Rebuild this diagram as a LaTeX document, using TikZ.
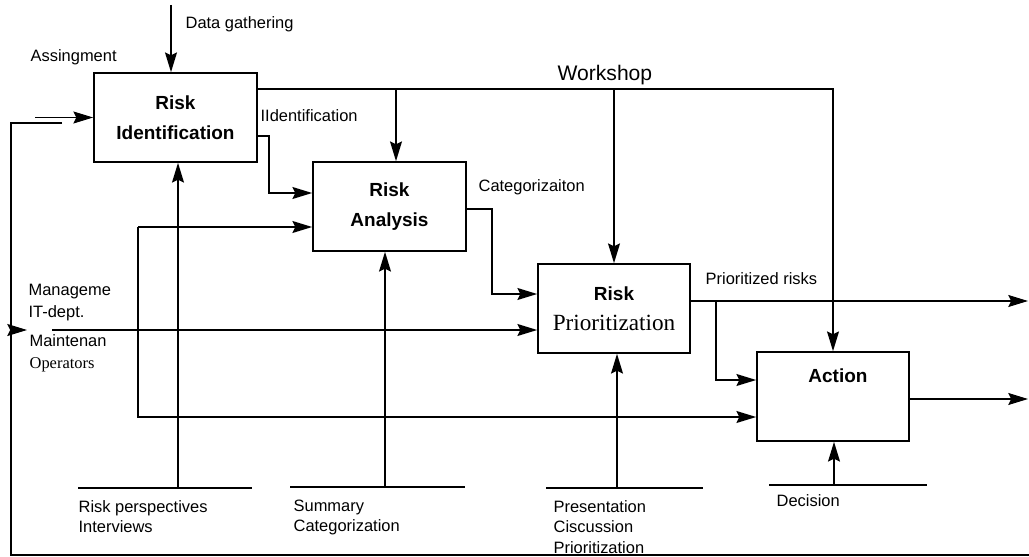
\documentclass[tikz,border=0pt]{standalone}
\usepackage{fontspec}
\setmainfont{Liberation Sans}
\newfontfamily\timesfont{Liberation Serif}
\usetikzlibrary{arrows.meta, positioning}

\begin{document}
\begin{tikzpicture}[x=0.025cm, y=-0.025cm, line width=0.9pt,
    box/.style={draw, line width=1.2pt, minimum width=3.8cm, minimum height=2.225cm,
      align=center, font=\bfseries\fontsize{13.5}{21}\selectfont},
    flow/.style={-{Stealth[length=14pt, width=8.5pt, inset=2pt]}},
    lbl/.style={inner sep=0pt, align=left, font=\fontsize{11.7}{14.4}\selectfont}]
    \useasboundingbox (0,0) rectangle (1029,557);

    % Boxes
    \node[box, minimum width=4.075cm] (ri) at (175.5,117.5) {Risk\\Identification};
    \node[box, minimum width=3.825cm] (ra) at (389.5,206.5) {Risk\\Analysis};
    \node[box] (rp) at (614,308.5) {Risk\\{\mdseries\timesfont\fontsize{16.5}{21}\selectfont Prioritization}};
    \node[box] (act) at (833,396.5) {};
    \node[font=\bfseries\fontsize{13.5}{16}\selectfont] (actlbl) at (838,376) {Action};

    % Workshop line on top
    \coordinate (ws) at (833,89);
    \coordinate (w1) at (396,89);
    \coordinate (w2) at (614,89);
    \draw[flow] (ri.east |- ws) -- (ws) -- (act.north);
    \draw[flow] (w1) -- (w1 |- ra.north);
    \draw[flow] (w2) -- (rp.north);
    \node[lbl, anchor=west, font=\fontsize{15}{18}\selectfont] (wslbl) at (557,75) {Workshop};

    % Data gathering and assignment
    \coordinate (dg) at (171,5);
    \draw[flow] (dg) -- (dg |- ri.north);
    \node[lbl, anchor=west] (dglbl) at (185,24) {Data gathering};
    \coordinate (asg) at (35,117.5);
    \draw[flow] (asg) -- (ri.west);
    \node[lbl, anchor=west] (asglbl) at (30,57) {Assingment};

    % Feedback loop round the whole chart
    \coordinate (fb) at (62,123);
    \coordinate (fbl) at (11,555);
    \coordinate (fbr) at (1029,555);
    \draw (fb) -| (fbl) -- (fbr);

    % Identification output
    \coordinate (id) at (269,193);
    \draw[flow] (ri.east |- 0,136) -| (id) -- (ra.west |- id);
    \node[lbl, anchor=west] (idlbl) at (260,116) {IIdentification};

    % Categorization output
    \coordinate (cat) at (492,294);
    \draw[flow] (ra.east |- 0,209) -| (cat) -- (rp.west |- cat);
    \node[lbl, anchor=west] (catlbl) at (478,187) {Categorizaiton};

    % Management line into analysis and action
    \coordinate (mg) at (138,227);
    \coordinate (mgb) at (138,417);
    \draw[flow] (mg) -- (ra.west |- mg);
    \draw[flow] (mg) -- (mgb) -- (act.west |- mgb);

    % Line from the left edge into prioritization
    \coordinate (itl) at (11,330);
    \coordinate (itm) at (27,330);
    \coordinate (its) at (52,330);
    \draw[flow] (itl) -- (itm);
    \draw[flow] (its) -- (rp.west |- its);
    \node[lbl, anchor=west] (mglbl) at (28,292) {Manageme};
    \node[lbl, anchor=west] (itlbl) at (28,313) {IT-dept.};
    \node[lbl, anchor=west] (mtlbl) at (29,341) {Maintenan};
    \node[lbl, anchor=west, font=\timesfont\fontsize{11.7}{14}\selectfont] (oplbl) at (29,365) {Operators};

    % Prioritized risks and action outputs
    \coordinate (pr) at (716,301);
    \coordinate (out1) at (1028,301);
    \coordinate (out2) at (1028,399);
    \draw[flow] (rp.east |- pr) -- (out1);
    \draw[flow] (pr) |- (act.west |- 0,380);
    \draw[flow] (act.east |- out2) -- (out2);
    \node[lbl, anchor=west] (prlbl) at (705,279) {Prioritized risks};

    % Bars under the boxes
    \foreach \a/\b/\c/\h/\n in {78/252/178/488/ri, 290/465/385/487/ra, 546/703/617/488/rp, 769/927/834/485/act}{
      \coordinate (foot) at (\c,\h);
      \draw (\a,\h) -- (\b,\h);
      \draw[flow] (foot) -- (foot |- \n.south);
    }

    % Bar texts
    \node[lbl, anchor=north west] (rilbl) at (78,500) {Risk perspectives\\Interviews};
    \node[lbl, anchor=north west] (ralbl) at (293,499) {Summary\\Categorization};
    \node[lbl, anchor=north west] (rplbl) at (553,500) {Presentation\\Ciscussion\\Prioritization};
    \node[lbl, anchor=north west] (declbl) at (776,494) {Decision};
  \end{tikzpicture}
\end{document}
